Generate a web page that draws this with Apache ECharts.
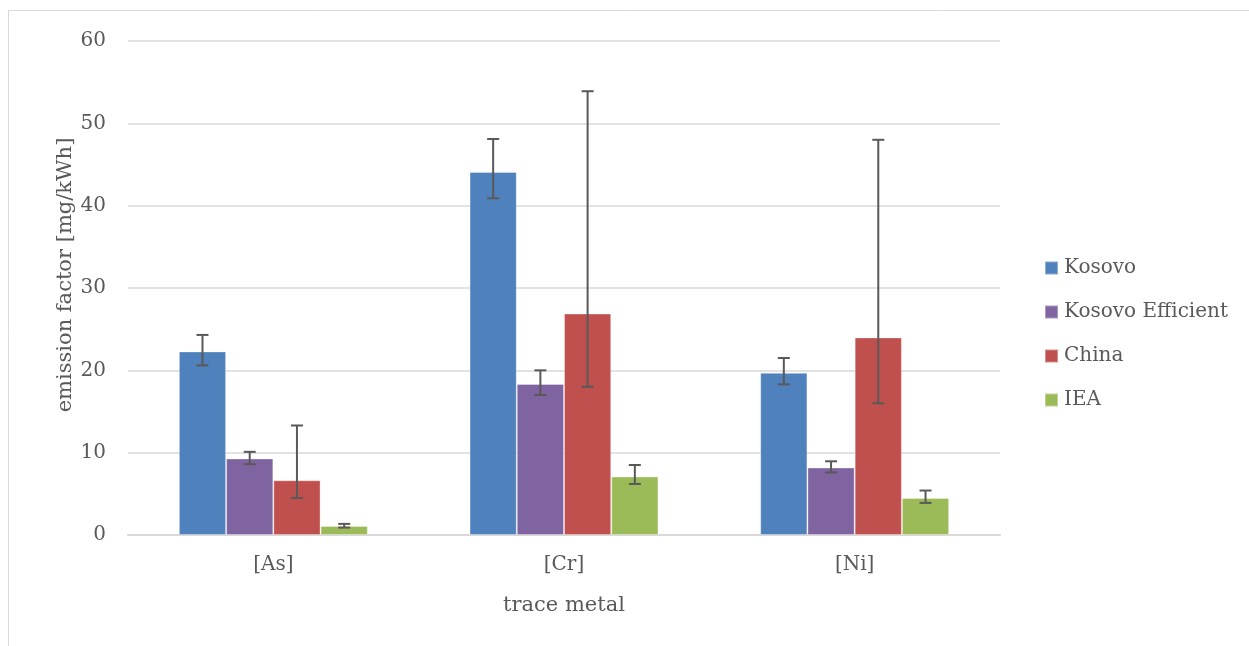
<!DOCTYPE html>
<html lang="en">
<head>
  <meta charset="UTF-8">
  <title>Trace metal emission factors</title>
  <script src="https://cdn.jsdelivr.net/npm/echarts@6.0.0/dist/echarts.min.js"></script>
  <style>
    html, body { margin: 0; padding: 0; background: #fff; }
    #main { width: 1249px; height: 646px; }
  </style>
</head>
<body>
  <div id="main"></div>
  <script>
    // categories and series
    const metals = ['[As]', '[Cr]', '[Ni]'];
    const seriesNames = ['Kosovo', 'Kosovo Efficient', 'China', 'IEA'];
    const colors = ['#4F81BD', '#8064A2', '#C0504D', '#9BBB59'];

    const kosovo = [22.3, 44.1, 19.7];
    const kosovoEff = [9.3, 18.35, 8.2];
    const china = [6.65, 26.9, 24.0];
    const iea = [1.1, 7.1, 4.5];

    // error bar ranges [low, high]
    const kosovoErr = [[20.6, 24.3], [40.9, 48.1], [18.3, 21.5]];
    const kosovoEffErr = [[8.6, 10.1], [17.0, 20.0], [7.6, 8.95]];
    const chinaErr = [[4.5, 13.3], [18.0, 53.9], [16.0, 48.0]];
    const ieaErr = [[0.9, 1.35], [6.2, 8.5], [3.9, 5.4]];

    const values = [kosovo, kosovoEff, china, iea];
    const errors = [kosovoErr, kosovoEffErr, chinaErr, ieaErr];

    const catGap = 0.35;
    const font = 'DejaVu Serif';
    const textColor = '#595959';

    let chart = echarts.init(document.getElementById('main'));

    function errorSeries(idx) {
      return {
        type: 'custom',
        name: seriesNames[idx] + ' err',
        z: 5,
        silent: true,
        data: errors[idx].map((e, i) => [i, e[0], e[1]]),
        renderItem: function (params, api) {
          const band = api.size([1, 0])[0];
          const bw = band * (1 - catGap) / 4;
          const lo = api.coord([api.value(0), api.value(1)]);
          const hi = api.coord([api.value(0), api.value(2)]);
          const x = lo[0] + (idx - 1.5) * bw;
          const cap = 6;
          const style = { stroke: '#595959', lineWidth: 2 };
          return {
            type: 'group',
            children: [
              { type: 'line', shape: { x1: x, y1: lo[1], x2: x, y2: hi[1] }, style: style },
              { type: 'line', shape: { x1: x - cap, y1: lo[1], x2: x + cap, y2: lo[1] }, style: style },
              { type: 'line', shape: { x1: x - cap, y1: hi[1], x2: x + cap, y2: hi[1] }, style: style }
            ]
          };
        }
      };
    }

    let series = [];
    values.forEach((v, idx) => {
      series.push({
        name: seriesNames[idx],
        type: 'bar',
        data: v,
        barGap: '0%',
        barCategoryGap: (catGap * 100) + '%',
        itemStyle: { color: colors[idx], borderColor: 'rgba(255,255,255,0.35)', borderWidth: 1 }
      });
    });
    values.forEach((v, idx) => series.push(errorSeries(idx)));

    let option = {
      animation: false,
      color: colors,
      graphic: [{
        type: 'rect',
        shape: { x: 8.5, y: 10.5, width: 1260, height: 660 },
        style: { fill: 'none', stroke: '#d9d9d9', lineWidth: 1 },
        silent: true
      }],
      grid: { left: 128, right: 249, top: 41, bottom: 111 },
      legend: {
        orient: 'vertical',
        left: 1044,
        top: 258,
        padding: 0,
        itemWidth: 13,
        itemHeight: 13,
        itemGap: 24,
        icon: 'rect',
        data: seriesNames,
        textStyle: { fontFamily: font, fontSize: 20, color: textColor, padding: [0, 0, 0, 1] }
      },
      xAxis: {
        type: 'category',
        data: metals,
        name: 'trace metal',
        nameLocation: 'middle',
        nameGap: 60,
        nameTextStyle: { fontFamily: font, fontSize: 21, color: textColor },
        axisLine: { lineStyle: { color: '#d9d9d9', width: 2 } },
        axisTick: { show: false },
        axisLabel: { fontFamily: font, fontSize: 20, color: textColor, margin: 20 }
      },
      yAxis: {
        type: 'value',
        min: 0,
        max: 60,
        interval: 10,
        name: 'emission factor [mg/kWh]',
        nameLocation: 'middle',
        nameGap: 52,
        nameMoveOverlap: false,
        nameTextStyle: { fontFamily: font, fontSize: 21, color: textColor, padding: [0, 0, 0, 26] },
        axisLine: { show: false },
        axisTick: { show: false },
        splitLine: { lineStyle: { color: '#d9d9d9', width: 1.5 } },
        axisLabel: { fontFamily: font, fontSize: 20, color: textColor, margin: 22 }
      },
      series: series
    };
    chart.setOption(option);

    window.addEventListener('resize', function () {
      chart.resize();
    });
  </script>
</body>
</html>
